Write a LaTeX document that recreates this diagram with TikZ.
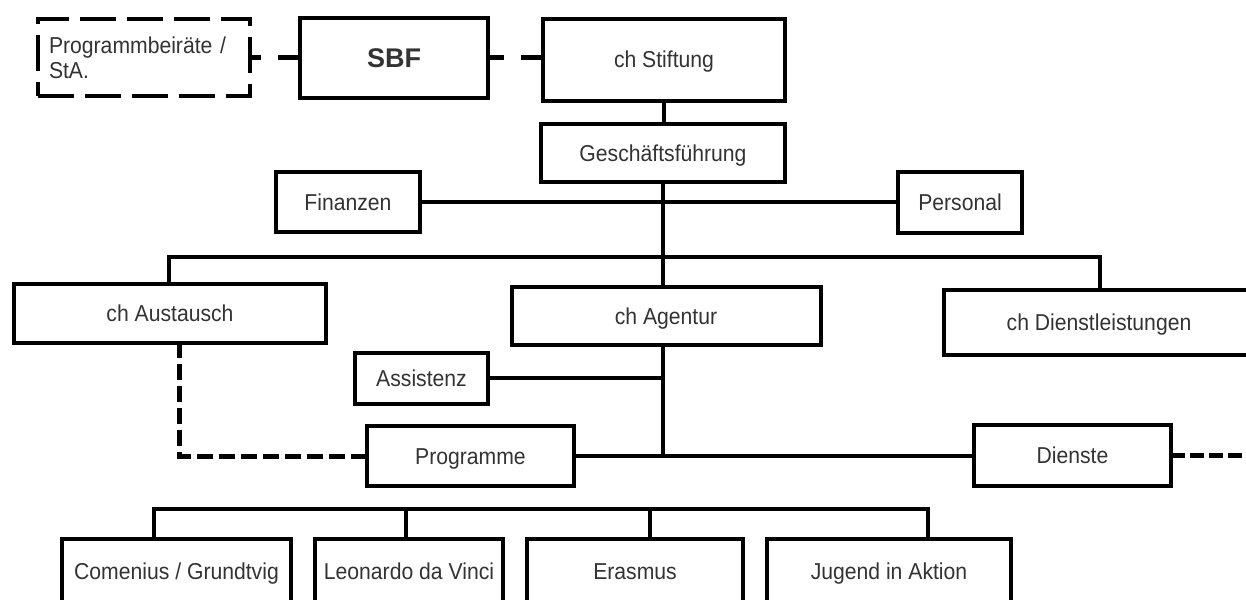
\documentclass[tikz,border=0pt]{standalone}
\usepackage{fontspec}
\setmainfont{Liberation Sans}[FakeStretch=0.92]
\newfontfamily\sbffont{Liberation Sans}
\begin{document}
\begin{tikzpicture}[x=1pt,y=-1pt,
  basebox/.style={draw=black, line width=4pt, rectangle, inner sep=2pt, outer sep=0pt,
    font=\fontsize{23}{25}\selectfont, text=black!80, fill=white},
  box/.style={basebox, text height=17pt, text depth=1pt},
  dashbox/.style={basebox, dash pattern=on 36pt off 11pt},
  conn/.style={draw=black, line width=4.5pt},
  bigdash/.style={conn, line width=5pt, dash pattern=on 22pt off 17pt},
  smalldash/.style={conn, line width=5pt, dash pattern=on 16pt off 6pt},
  enddash/.style={conn, line width=5pt, dash pattern=on 14pt off 5pt}]
\useasboundingbox (0,0) rectangle (1246,599);
\clip (0,0) rectangle (1246,599);
\fill[white] (0,0) rectangle (1246,599);
% boxes
\node[dashbox, minimum width=212, minimum height=77, text width=190, align=left] (pb) at (144,57.5) {Programmbeiräte /\\StA.};
\node[box, minimum width=188, minimum height=80, text height=19pt, text depth=0pt, font=\sbffont\bfseries\fontsize{27}{29}\selectfont] (sbf) at (394,58) {SBF};
\node[box, minimum width=242, minimum height=82] (stift) at (664,60) {ch Stiftung};
\node[box, minimum width=244, minimum height=58] (gf) at (663,153) {Geschäftsführung};
\node[box, minimum width=144, minimum height=60] (fin) at (348,202) {Finanzen};
\node[box, minimum width=124, minimum height=61] (pers) at (960,202) {Personal};
\node[box, minimum width=312, minimum height=59] (aus) at (170,313.5) {ch Austausch};
\node[box, minimum width=309, minimum height=58] (agent) at (666,316) {ch Agentur};
\node[box, minimum width=310, minimum height=65] (dl) at (1099,322.5) {ch Dienstleistungen};
\node[box, minimum width=133, minimum height=51] (assist) at (421.5,378) {Assistenz};
\node[box, minimum width=207, minimum height=60] (progr) at (470.5,456) {Programme};
\node[box, minimum width=197, minimum height=61] (dienste) at (1072.5,455.5) {Dienste};
\node[box, minimum width=229, minimum height=64] (com) at (176.5,571) {Comenius / Grundtvig};
\node[box, minimum width=188, minimum height=64] (leo) at (409,571) {Leonardo da Vinci};
\node[box, minimum width=216, minimum height=64] (eras) at (635,571) {Erasmus};
\node[box, minimum width=244, minimum height=64] (jug) at (889,571) {Jugend in Aktion};
% helper coordinates
\coordinate (bl) at (169,257);
\coordinate (br) at (1100,257);
\coordinate (c1) at (154,509);
\coordinate (c2) at (406,509);
\coordinate (c3) at (650,509);
\coordinate (c4) at (928,509);
\coordinate (ad) at (179,456);
\coordinate (de) at (1252,455.5);
% solid connectors
\draw[conn] (stift.south) -- (stift.south |- gf.north);
\draw[conn] (gf.south) -- (gf.south |- agent.north);
\draw[conn] (fin.east) -- (pers.west);
\draw[conn] (bl |- aus.north) -- (bl) -- (br) -- (br |- dl.north);
\draw[conn] (agent.south -| gf.south) -- (gf.south |- progr.east);
\draw[conn] (assist.east) -- (assist.east -| gf.south);
\draw[conn] (progr.east) -- (progr.east -| dienste.west);
\draw[conn] (c1 |- com.north) -- (c1) -- (c4) -- (c4 |- jug.north);
\draw[conn] (c2) -- (c2 |- leo.north);
\draw[conn] (c3) -- (c3 |- eras.north);
% dashed connectors
\draw[bigdash] (sbf.west) -- (sbf.west -| pb.east);
\draw[bigdash] (sbf.east -| stift.west) -- (sbf.east);
\draw[smalldash] (progr.west) -- (ad) -- (ad |- aus.south);
\draw[enddash] (dienste.east) -- (de);
\end{tikzpicture}
\end{document}
